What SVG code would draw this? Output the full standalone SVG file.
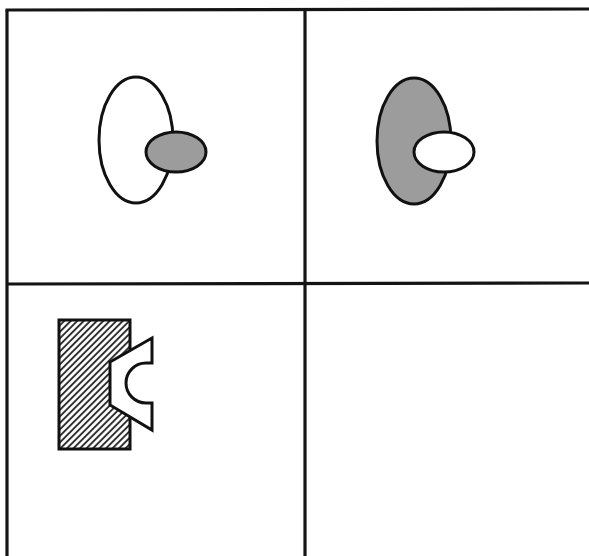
<svg xmlns="http://www.w3.org/2000/svg" width="589" height="556" viewBox="0 0 589 556">
<style>
.grid{stroke:#141414;stroke-width:3.2;fill:none}
.out{stroke:#111;stroke-width:3}
.gray{fill:#9c9c9c}
.white{fill:#fff}
</style>
<defs>
<pattern id="hatch" width="4.6" height="10" patternUnits="userSpaceOnUse" patternTransform="rotate(45)">
<line x1="1" y1="0" x2="1" y2="10" stroke="#222" stroke-width="1.8"/>
</pattern>
</defs>
<rect width="589" height="556" fill="#fff"/>
<g id="grid">
<line class="grid" x1="5.5" y1="10" x2="589" y2="9"/>
<line class="grid" x1="7" y1="10" x2="7" y2="556"/>
<line class="grid" x1="305" y1="10" x2="305" y2="556"/>
<line class="grid" x1="7" y1="284" x2="589" y2="283"/>
</g>
<g id="panel1">
<ellipse class="out white" cx="136" cy="140" rx="37" ry="63"/>
<ellipse class="out gray" cx="176" cy="152" rx="30" ry="20"/>
</g>
<g id="panel2">
<ellipse class="out gray" cx="414" cy="141" rx="37" ry="63"/>
<ellipse class="out white" cx="444" cy="152" rx="30" ry="20"/>
</g>
<g id="panel3">
<rect x="59" y="320" width="71" height="129" fill="url(#hatch)" stroke="#111" stroke-width="3"/>
<path class="white" d="M110,362 L152,338 L152,430 L110,405 Z"/>
<path class="out" fill="none" d="M110,362 L152,338 L152,363 L146,363 A20,20 0 0 0 146,403 L152,403 L152,430 L110,405 Z" stroke-linejoin="miter"/>
</g>
</svg>
